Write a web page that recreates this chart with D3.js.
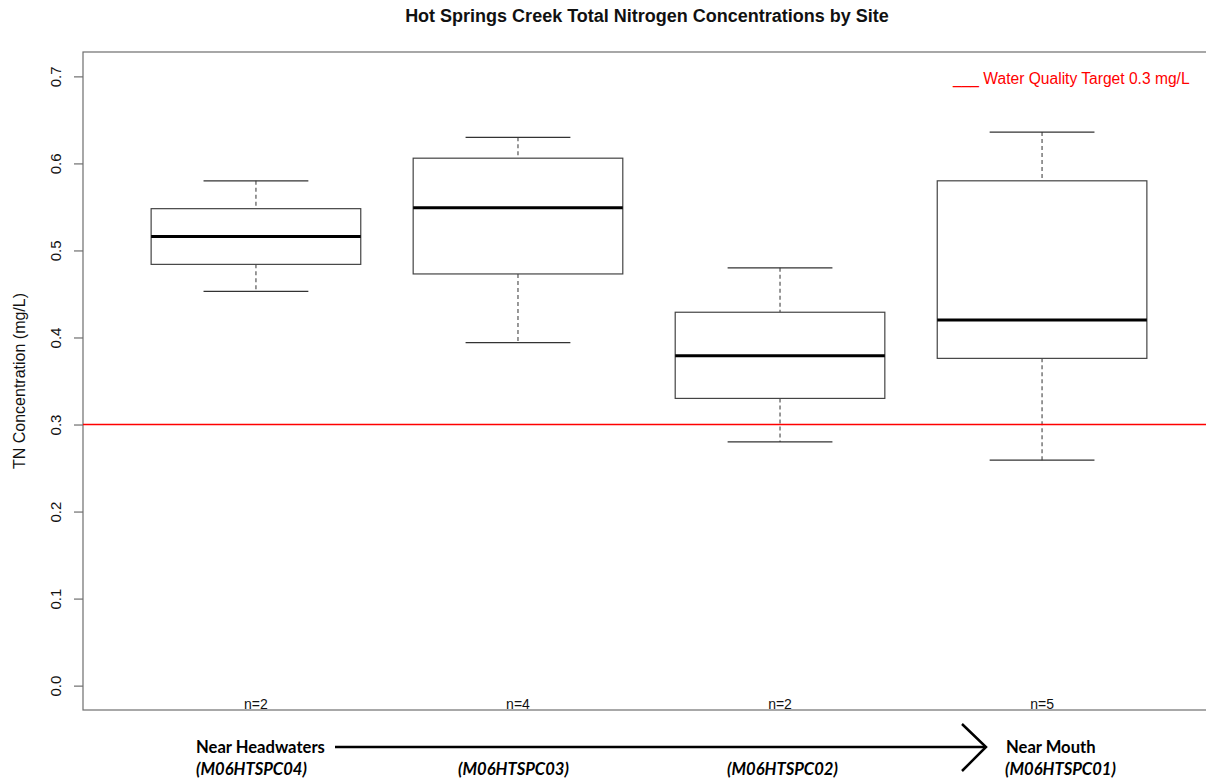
<!DOCTYPE html>
<html><head><meta charset="utf-8">
<script src="https://cdn.jsdelivr.net/npm/d3@7"></script>
<style>
html,body{margin:0;padding:0;background:#fff;}
svg{display:block;}
</style></head>
<body>
<svg id="chart" width="1206" height="780"></svg>
<script>
// ---- data ----
const sites = ["(M06HTSPC04)", "(M06HTSPC03)", "(M06HTSPC02)", "(M06HTSPC01)"];
const counts = [2, 4, 2, 5];
const whiskerLow  = [0.453, 0.394, 0.280, 0.259];
const q1          = [0.484, 0.473, 0.330, 0.376];
const median      = [0.516, 0.549, 0.379, 0.420];
const q3          = [0.548, 0.606, 0.429, 0.580];
const whiskerHigh = [0.580, 0.630, 0.480, 0.636];
const yTicks = [0.0, 0.1, 0.2, 0.3, 0.4, 0.5, 0.6, 0.7];
const target = 0.3;
const endLabels = ["Near Headwaters", "Near Mouth"];

const svg = d3.select("#chart");
const plot = {left: 83, top: 52, right: 1215, bottom: 710};

const x = d3.scaleLinear().domain([0.34, 4.66]).range([plot.left, plot.right]);
const y = d3.scaleLinear().domain([-0.028, 0.728]).range([plot.bottom, plot.top]);

const boxW = 0.8, capW = 0.4;
const data = sites.map((s, i) => ({pos: i + 1, lo: whiskerLow[i], q1: q1[i], med: median[i], q3: q3[i], hi: whiskerHigh[i], n: counts[i]}));

// title
svg.append("text").attr("x", 647).attr("y", 22).attr("text-anchor", "middle")
  .attr("font-family", "Liberation Sans, Arial, sans-serif").attr("font-weight", "bold")
  .attr("font-size", 18).attr("fill", "#111")
  .text("Hot Springs Creek Total Nitrogen Concentrations by Site");

// frame
svg.append("rect").attr("x", plot.left).attr("y", plot.top)
  .attr("width", plot.right - plot.left).attr("height", plot.bottom - plot.top)
  .attr("fill", "none").attr("stroke", "#6e6e6e").attr("stroke-width", 1.2);

// y axis
const yAxis = svg.append("g").attr("transform", `translate(${plot.left},0)`)
  .call(d3.axisLeft(y).tickValues(yTicks).tickSize(9).tickPadding(0).tickFormat(d3.format(".1f")));
yAxis.select(".domain").remove();
yAxis.selectAll(".tick line").attr("stroke", "#6e6e6e").attr("stroke-width", 1.2);
yAxis.selectAll(".tick text")
  .attr("font-family", "Liberation Sans, Arial, sans-serif").attr("font-size", 15).attr("fill", "#111")
  .attr("text-anchor", "middle").attr("x", 0).attr("dy", 0)
  .attr("transform", "translate(-28,0) rotate(-90)")
  .attr("y", 0).attr("dominant-baseline", "central");

// y label
svg.append("text").attr("transform", `translate(19,${y(0.35)}) rotate(-90)`)
  .attr("text-anchor", "middle").attr("dominant-baseline", "central")
  .attr("font-family", "Liberation Sans, Arial, sans-serif").attr("font-size", 16).attr("fill", "#111")
  .text("TN Concentration (mg/L)");

// boxes
const g = svg.append("g");
const bx = g.selectAll("g.box").data(data).join("g").attr("class", "box");
bx.append("line").attr("x1", d => x(d.pos)).attr("x2", d => x(d.pos))
  .attr("y1", d => y(d.hi)).attr("y2", d => y(d.q3))
  .attr("stroke", "#555").attr("stroke-dasharray", "4,3").attr("stroke-width", 1.2);
bx.append("line").attr("x1", d => x(d.pos)).attr("x2", d => x(d.pos))
  .attr("y1", d => y(d.q1)).attr("y2", d => y(d.lo))
  .attr("stroke", "#555").attr("stroke-dasharray", "4,3").attr("stroke-width", 1.2);
bx.append("line").attr("x1", d => x(d.pos - capW / 2)).attr("x2", d => x(d.pos + capW / 2))
  .attr("y1", d => y(d.hi)).attr("y2", d => y(d.hi)).attr("stroke", "#333").attr("stroke-width", 1.3);
bx.append("line").attr("x1", d => x(d.pos - capW / 2)).attr("x2", d => x(d.pos + capW / 2))
  .attr("y1", d => y(d.lo)).attr("y2", d => y(d.lo)).attr("stroke", "#333").attr("stroke-width", 1.3);
bx.append("rect").attr("x", d => x(d.pos - boxW / 2)).attr("width", d => x(d.pos + boxW / 2) - x(d.pos - boxW / 2))
  .attr("y", d => y(d.q3)).attr("height", d => y(d.q1) - y(d.q3))
  .attr("fill", "#fff").attr("stroke", "#444").attr("stroke-width", 1.2);
bx.append("line").attr("x1", d => x(d.pos - boxW / 2)).attr("x2", d => x(d.pos + boxW / 2))
  .attr("y1", d => y(d.med)).attr("y2", d => y(d.med)).attr("stroke", "#000").attr("stroke-width", 3);

// n labels
bx.append("text").attr("x", d => x(d.pos)).attr("y", plot.bottom - 1).attr("text-anchor", "middle")
  .attr("font-family", "Liberation Sans, Arial, sans-serif").attr("font-size", 14).attr("fill", "#111")
  .text(d => "n=" + d.n);

// target line
svg.append("line").attr("x1", plot.left).attr("x2", 1206).attr("y1", y(target)).attr("y2", y(target))
  .attr("stroke", "#ff0000").attr("stroke-width", 1.6);

// legend
svg.append("text").attr("x", 953).attr("y", 84)
  .attr("font-family", "Liberation Sans, Arial, sans-serif").attr("font-size", 15.6).attr("fill", "#ff0000")
  .text("___ Water Quality Target 0.3 mg/L");

// bottom annotations
const ann = svg.append("g").attr("font-family", "Lato, 'Open Sans', sans-serif").attr("font-weight", "bold")
  .attr("font-size", 16.6).attr("fill", "#000");
ann.append("text").attr("x", 196).attr("y", 753).text(endLabels[0]);
ann.append("text").attr("x", 1006).attr("y", 753).text(endLabels[1]);
const siteX = [196, 458, 727, 1005];
sites.forEach((s, i) => {
  ann.append("text").attr("x", siteX[i]).attr("y", 775).attr("font-style", "italic").text(s);
});
// arrow
svg.append("line").attr("x1", 335).attr("x2", 985).attr("y1", 747).attr("y2", 747)
  .attr("stroke", "#000").attr("stroke-width", 2.5);
svg.append("path").attr("d", "M962,724 L986,747 L962,771")
  .attr("fill", "none").attr("stroke", "#000").attr("stroke-width", 2.5);
</script>
</body></html>
